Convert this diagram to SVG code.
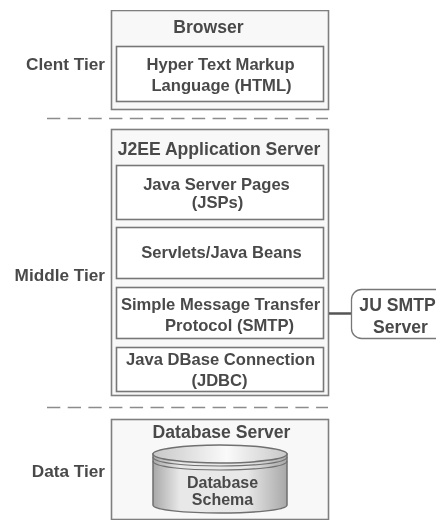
<svg xmlns="http://www.w3.org/2000/svg" width="436" height="521" viewBox="0 0 436 521">
<defs>
<linearGradient id="cyl" x1="0" x2="1" y1="0" y2="0"><stop offset="0" stop-color="#a8a8a8"/><stop offset="0.2" stop-color="#e8e8e8"/><stop offset="0.7" stop-color="#e8e8e8"/><stop offset="1" stop-color="#a8a8a8"/></linearGradient>
<linearGradient id="top" x1="0" x2="1" y1="0" y2="0"><stop offset="0" stop-color="#c8c8c8"/><stop offset="0.55" stop-color="#fafafa"/><stop offset="1" stop-color="#c8c8c8"/></linearGradient>
<filter id="soft" x="0" y="0" width="100%" height="100%"><feGaussianBlur stdDeviation="0.45"/></filter>
</defs>
<style>
.outer{fill:#f8f8f8;stroke:#7f7f7f;stroke-width:1.6}
.inner{fill:#fff;stroke:#777;stroke-width:1.6}
text{font-family:"Liberation Sans",Arial,sans-serif;fill:#4a4a4a;text-anchor:middle;font-weight:700}
.t{font-size:16.600px}
.s{font-size:16px}
.h{font-size:17.600px}
.l{font-size:17.200px;text-anchor:end}
.dash{stroke:#8c8c8c;stroke-width:1.6;stroke-dasharray:13.300 7.400;fill:none}
</style>
<rect width="436" height="521" fill="#fff"/>
<g filter="url(#soft)">
<g id="divider-1"><line class="dash" x1="47" y1="118.500" x2="328" y2="118.500"/></g>
<g id="divider-2"><line class="dash" x1="47" y1="407.500" x2="328" y2="407.500"/></g>
<g id="client-label"><text class="l" x="105" y="70">Clent Tier</text></g>
<g id="middle-label"><text class="l" x="105" y="281">Middle Tier</text></g>
<g id="data-label"><text class="l" x="105" y="477">Data Tier</text></g>
<g id="browser">
<rect class="outer" x="111.500" y="10.500" width="217" height="99"/>
<text class="h" x="208.500" y="33">Browser</text>
</g>
<g id="html">
<rect class="inner" x="116.500" y="46.500" width="207" height="55"/>
<text class="t" x="220.500" y="70">Hyper Text Markup</text>
<text class="t" x="221.500" y="91">Language (HTML)</text>
</g>
<g id="j2ee">
<rect class="outer" x="111.500" y="129.500" width="217" height="266"/>
<text class="h" x="219" y="155">J2EE Application Server</text>
</g>
<g id="jsp">
<rect class="inner" x="116.500" y="165.500" width="207" height="54"/>
<text class="t" x="216.500" y="190">Java Server Pages</text>
<text class="t" x="217.500" y="208">(JSPs)</text>
</g>
<g id="servlets">
<rect class="inner" x="116.500" y="227.500" width="207" height="51"/>
<text class="t" x="221.500" y="258">Servlets/Java Beans</text>
</g>
<g id="smtp">
<rect class="inner" x="116.500" y="287.500" width="207" height="51"/>
<text class="t" x="220.500" y="310">Simple Message Transfer</text>
<text class="t" x="229.500" y="331">Protocol (SMTP)</text>
</g>
<g id="jdbc">
<rect class="inner" x="116.500" y="347.500" width="207" height="44"/>
<text class="t" x="220.500" y="365">Java DBase Connection</text>
<text class="t" x="219.500" y="386">(JDBC)</text>
</g>
<g id="db-server">
<rect class="outer" x="111.500" y="419.500" width="217" height="100"/>
<text class="h" x="221.500" y="437.500">Database Server</text>
</g>
<g id="schema">
<path d="M153 454V505C153 510 185 513 220 513S287 510 287 505V454Z" fill="url(#cyl)" stroke="#6f6f6f" stroke-width="1.500"/>
<ellipse cx="220" cy="454" rx="67" ry="9" fill="url(#top)" stroke="#6f6f6f" stroke-width="1.500"/>
<path d="M153 457C153 463 185 466 220 466S287 463 287 457M153 461C153 467 185 470 220 470S287 467 287 461" fill="none" stroke="#6f6f6f" stroke-width="1.200"/>
<text class="s" x="222.500" y="488">Database</text>
<text class="s" x="222.500" y="505">Schema</text>
</g>
<g id="connectors"><line x1="329" y1="313.500" x2="351" y2="313.500" stroke="#555" stroke-width="2.500"/></g>
<g id="ju-smtp">
<rect x="351.500" y="289.500" width="100" height="49" rx="10" fill="#fff" stroke="#777" stroke-width="1.300"/>
<text class="h" x="397.500" y="311">JU SMTP</text>
<text class="h" x="400.500" y="333">Server</text>
</g>
</g>
</svg>
